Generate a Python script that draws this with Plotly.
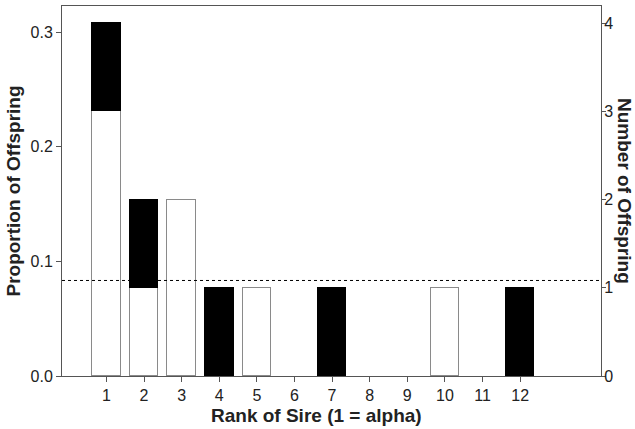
import plotly.graph_objects as go

ranks = [1, 2, 3, 4, 5, 6, 7, 8, 9, 10, 11, 12]
white_counts = [3, 1, 2, 0, 1, 0, 0, 0, 0, 1, 0, 0]
black_counts = [1, 1, 0, 1, 0, 0, 1, 0, 0, 0, 0, 1]
total_offspring = 13
expected_prop = 1 / 12
left_ticks = [0.0, 0.1, 0.2, 0.3]
right_ticks = [0, 1, 2, 3, 4]

white_prop = [c / total_offspring if c > 0 else None for c in white_counts]
black_prop = [c / total_offspring if c > 0 else None for c in black_counts]

ymax = 0.3228
fig = go.Figure()
fig.add_trace(go.Bar(x=ranks, y=white_prop, width=0.76,
                     marker=dict(color="white", line=dict(color="#8a8a8a", width=1)),
                     showlegend=False))
fig.add_trace(go.Bar(x=ranks, y=black_prop, width=0.76,
                     marker=dict(color="black", line=dict(color="black", width=1)),
                     showlegend=False))
# dummy trace for right axis
fig.add_trace(go.Scatter(x=[ranks[0]], y=[0], yaxis="y2", mode="markers",
                         marker=dict(opacity=0), showlegend=False, hoverinfo="skip"))

fig.add_shape(type="line", xref="paper", yref="y", x0=0, x1=1,
              y0=expected_prop, y1=expected_prop,
              line=dict(color="black", width=1, dash="dot"))

axis_font = dict(family="Arial, Liberation Sans, sans-serif", size=16, color="#222")
fig.update_layout(
    barmode="stack",
    width=635, height=429,
    margin=dict(l=62, r=34, t=6, b=53),
    paper_bgcolor="white", plot_bgcolor="white",
    font=axis_font,
    bargap=0,
    xaxis=dict(range=[-0.18, 14.15], tickmode="array", tickvals=ranks,
               ticktext=[str(r) for r in ranks],
               showline=True, linecolor="#555", linewidth=1, mirror=True,
               ticks="outside", ticklen=5, tickcolor="#555",
               showgrid=False, zeroline=False),
    yaxis=dict(range=[0, ymax], tickmode="array", tickvals=left_ticks,
               ticktext=["0.0", "0.1", "0.2", "0.3"],
               showline=True, linecolor="#555", linewidth=1,
               ticks="outside", ticklen=5, tickcolor="#555",
               showgrid=False, zeroline=False,
               title=dict(text="<b>Proportion of Offspring</b>", font=dict(size=19), standoff=4)),
    yaxis2=dict(range=[0, ymax * total_offspring], overlaying="y", side="right",
                tickmode="array", tickvals=right_ticks,
                showline=True, linecolor="#555", linewidth=1,
                ticks="outside", ticklen=4, tickcolor="#555",
                ticklabelstandoff=-5,
                showgrid=False, zeroline=False),
)
fig.add_annotation(text="<b>Rank of Sire (1 = alpha)</b>",
                   xref="paper", yref="paper", x=0.473, y=0, yshift=-39,
                   xanchor="center", yanchor="middle",
                   showarrow=False, font=dict(size=19, color="#222"))
fig.add_annotation(text="<b>Number of Offspring</b>", textangle=90,
                   xref="paper", yref="paper", x=1.0, y=0.5, xshift=24,
                   xanchor="center", yanchor="middle",
                   showarrow=False, font=dict(size=19, color="#222"))
fig.write_html("out.html")
